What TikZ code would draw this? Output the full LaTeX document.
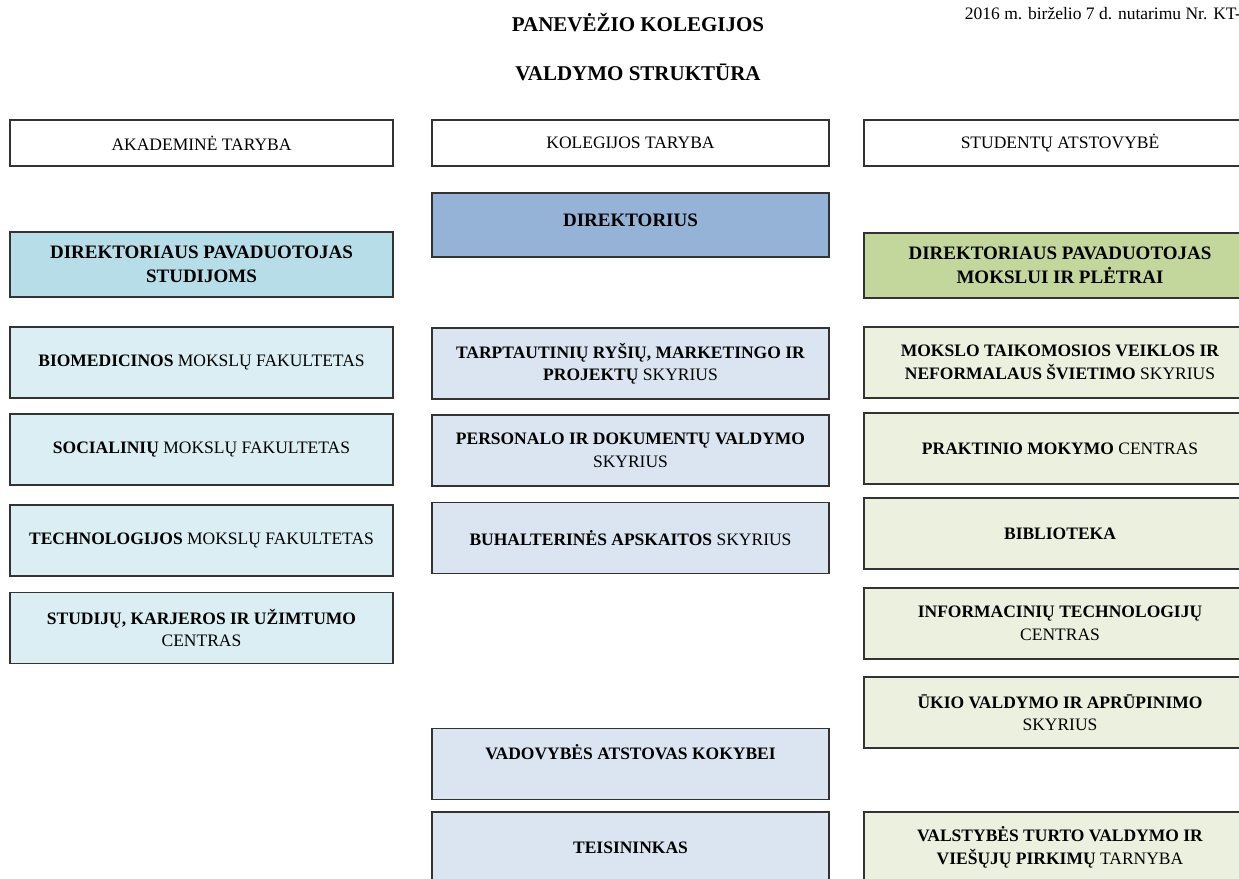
\documentclass[tikz,border=0pt]{standalone}
\usepackage{fontspec}
\setmainfont{Liberation Serif}
\definecolor{boxline}{HTML}{333333}
\definecolor{headblue}{HTML}{95B3D7}
\definecolor{headcyan}{HTML}{B7DDE8}
\definecolor{headgreen}{HTML}{C3D69B}
\definecolor{lightcyan}{HTML}{DAEEF3}
\definecolor{lightblue}{HTML}{DBE5F1}
\definecolor{lightgreen}{HTML}{EBF1DE}

\begin{document}
\begin{tikzpicture}[x = 1pt, y = -1pt,
    box/.style = {draw = boxline, line width = 1.2pt, inner sep = 0pt, align = center,
        minimum height = 71pt, font = \fontsize{17.5}{22.5}\selectfont},
    leftbox/.style = {box, minimum width = 383pt},
    midbox/.style = {box, minimum width = 397pt},
    rightbox/.style = {box, minimum width = 392pt},
    headbox/.style = {minimum height = 65pt, font = \fontsize{19}{24}\selectfont\bfseries},
    council/.style = {minimum height = 46pt},
    title/.style = {font = \fontsize{21}{25}\selectfont\bfseries, inner sep = 0pt}]
    \clip (0,0) rectangle (1239,878);
    \node[title] (kolegija) at (638,23) {PANEVĖŽIO KOLEGIJOS};
    \node[title] (struktura) at (638,72) {VALDYMO STRUKTŪRA};
    \node[anchor = base east, inner sep = 0pt, font = \fontsize{17.5}{21}\selectfont] (nutarimas)
        at (1241,19) {2016 m. birželio 7 d. nutarimu Nr. KT-};
    \node[leftbox, council] (akademine) at (201.5,143) {AKADEMINĖ TARYBA};
    \node[midbox, council] (taryba) at (630.5,143) {KOLEGIJOS TARYBA};
    \node[rightbox, council] (studentai) at (1060,143) {STUDENTŲ ATSTOVYBĖ};
    \node[midbox, headbox, fill = headblue, minimum height = 64pt, text depth = 9pt] (direktorius)
        at (630.5,225) {DIREKTORIUS};
    \node[leftbox, headbox, fill = headcyan] (studijos) at (201.5,264.5)
        {DIREKTORIAUS PAVADUOTOJAS\\STUDIJOMS};
    \node[rightbox, headbox, fill = headgreen] (mokslas) at (1060,265.5)
        {DIREKTORIAUS PAVADUOTOJAS\\MOKSLUI IR PLĖTRAI};
    \node[leftbox, fill = lightcyan] (biomedicina) at (201.5,362.5)
        {\textbf{BIOMEDICINOS} MOKSLŲ FAKULTETAS};
    \node[leftbox, fill = lightcyan] (socialiniai) at (201.5,449.5)
        {\textbf{SOCIALINIŲ} MOKSLŲ FAKULTETAS};
    \node[leftbox, fill = lightcyan] (technologijos) at (201.5,540.5)
        {\textbf{TECHNOLOGIJOS} MOKSLŲ FAKULTETAS};
    \node[leftbox, fill = lightcyan] (karjera) at (201.5,628)
        {\textbf{STUDIJŲ, KARJEROS IR UŽIMTUMO}\\CENTRAS};
    \node[midbox, fill = lightblue] (rysiai) at (630.5,363.5)
        {\textbf{TARPTAUTINIŲ RYŠIŲ, MARKETINGO IR}\\\textbf{PROJEKTŲ} SKYRIUS};
    \node[midbox, fill = lightblue] (personalas) at (630.5,450.5)
        {\textbf{PERSONALO IR DOKUMENTŲ VALDYMO}\\SKYRIUS};
    \node[midbox, fill = lightblue] (apskaita) at (630.5,538)
        {\textbf{BUHALTERINĖS APSKAITOS} SKYRIUS};
    \node[midbox, fill = lightblue, text depth = 24pt] (kokybe) at (630.5,764)
        {\textbf{VADOVYBĖS ATSTOVAS KOKYBEI}};
    \node[midbox, fill = lightblue] (teisininkas) at (630.5,847.5)
        {\textbf{TEISININKAS}};
    \node[rightbox, fill = lightgreen] (veikla) at (1060,362.5)
        {\textbf{MOKSLO TAIKOMOSIOS VEIKLOS IR}\\\textbf{NEFORMALAUS ŠVIETIMO} SKYRIUS};
    \node[rightbox, fill = lightgreen] (praktika) at (1060,448.5)
        {\textbf{PRAKTINIO MOKYMO} CENTRAS};
    \node[rightbox, fill = lightgreen] (biblioteka) at (1060,533.5)
        {\textbf{BIBLIOTEKA}};
    \node[rightbox, fill = lightgreen] (it) at (1060,623.5)
        {\textbf{INFORMACINIŲ TECHNOLOGIJŲ}\\CENTRAS};
    \node[rightbox, fill = lightgreen] (ukis) at (1060,712.5)
        {\textbf{ŪKIO VALDYMO IR APRŪPINIMO}\\SKYRIUS};
    \node[rightbox, fill = lightgreen] (pirkimai) at (1060,847.5)
        {\textbf{VALSTYBĖS TURTO VALDYMO IR}\\\textbf{VIEŠŲJŲ PIRKIMŲ} TARNYBA};
\end{tikzpicture}
\end{document}
